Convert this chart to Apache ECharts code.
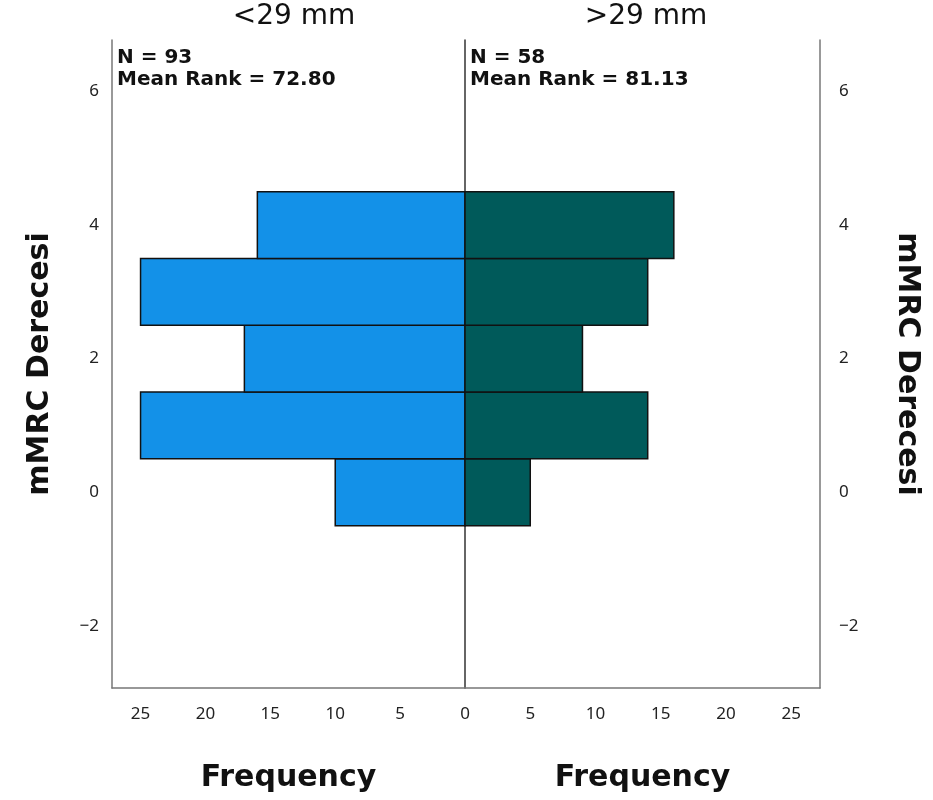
<!DOCTYPE html>
<html><head><meta charset="utf-8">
<script src="https://cdn.jsdelivr.net/npm/echarts@6/dist/echarts.min.js"></script>
<style>html,body{margin:0;padding:0;background:#fff}#c{width:933px;height:800px}</style>
</head><body><div id="c"></div>
<script>
var grades = [0, 1, 2, 3, 4];
var freqLeft = [10, 25, 17, 25, 16];
var freqRight = [5, 14, 9, 14, 16];
var xTicks = [0, 5, 10, 15, 20, 25];
var yTicks = [-2, 0, 2, 4, 6];
var groupNames = ['<29 mm', '>29 mm'];
var statsLeft = ['N = 93', 'Mean Rank = 72.80'];
var statsRight = ['N = 58', 'Mean Rank = 81.13'];

var chart = echarts.init(document.getElementById('c'));
function rectItem(params, api) {
  var g = api.value(0), f = api.value(1);
  var p1 = api.coord([0, g + 0.5]);
  var p2 = api.coord([f, g - 0.5]);
  var x = Math.min(p1[0], p2[0]), w = Math.abs(p2[0] - p1[0]);
  return {type: 'rect', shape: {x: x, y: p1[1], width: w, height: p2[1] - p1[1]},
    style: {fill: api.visual('color'), stroke: '#111', lineWidth: 1.5}};
}
function fmt(v) { return String(v).replace('-', '\u2212'); }
var axisFont = {fontFamily: 'Noto Sans', fontSize: 17, color: '#222', formatter: fmt};
var yMin = -2.93, yMax = 6.77, xMax = 27.2;
var nameStyle = {fontFamily: 'DejaVu Sans', fontWeight: 'bold', fontSize: 30, color: '#111'};
chart.setOption({
  animation: false,
  grid: [
    {left: 112, top: 40, width: 353, height: 648},
    {left: 465, top: 40, width: 355, height: 648}
  ],
  xAxis: [
    {gridIndex: 0, type: 'value', inverse: true, min: 0, max: xMax,
     axisLine: {show: true, onZero: false, lineStyle: {color: '#777', width: 1.5}}, axisTick: {show: false},
     splitLine: {show: false}, axisLabel: Object.assign({customValues: xTicks, margin: 18}, axisFont),
     name: 'Frequency', nameLocation: 'middle', nameGap: 75, nameTextStyle: nameStyle},
    {gridIndex: 1, type: 'value', min: 0, max: xMax,
     axisLine: {show: true, onZero: false, lineStyle: {color: '#777', width: 1.5}}, axisTick: {show: false},
     splitLine: {show: false}, axisLabel: Object.assign({customValues: xTicks.slice(1), margin: 18}, axisFont),
     name: 'Frequency', nameLocation: 'middle', nameGap: 75, nameTextStyle: nameStyle}
  ],
  yAxis: [
    {gridIndex: 0, type: 'value', min: yMin, max: yMax, position: 'left',
     axisLine: {show: true, onZero: false, lineStyle: {color: '#777', width: 1.5}}, axisTick: {show: false},
     splitLine: {show: false}, axisLabel: Object.assign({customValues: yTicks, margin: 13, padding: [7, 0, 0, 0]}, axisFont),
     name: 'mMRC Derecesi', nameLocation: 'middle', nameGap: 57, nameRotate: 90, nameTextStyle: nameStyle},
    {gridIndex: 1, type: 'value', min: yMin, max: yMax, position: 'left',
     axisLine: {show: true, onZero: false, lineStyle: {color: '#333', width: 1.5}}, axisTick: {show: false},
     splitLine: {show: false}, axisLabel: {show: false}},
    {gridIndex: 1, type: 'value', min: yMin, max: yMax, position: 'right',
     axisLine: {show: true, onZero: false, lineStyle: {color: '#777', width: 1.5}}, axisTick: {show: false},
     splitLine: {show: false}, axisLabel: Object.assign({customValues: yTicks, margin: 19, padding: [7, 0, 0, 0]}, axisFont),
     name: 'mMRC Derecesi', nameLocation: 'middle', nameGap: 72, nameRotate: -90, nameTextStyle: nameStyle}
  ],
  series: [
    {type: 'custom', xAxisIndex: 0, yAxisIndex: 0, itemStyle: {color: '#1391E8'},
     data: grades.map(function (g, i) { return [g, freqLeft[i]]; }), renderItem: rectItem, z: 1},
    {type: 'custom', xAxisIndex: 1, yAxisIndex: 1, itemStyle: {color: '#005A5A'},
     data: grades.map(function (g, i) { return [g, freqRight[i]]; }), renderItem: rectItem, z: 1}
  ],
  graphic: [
    {type: 'text', x: 294, y: 17, style: {text: groupNames[0], font: '500 28px "DejaVu Sans"', fill: '#111', align: 'center', verticalAlign: 'middle'}},
    {type: 'text', x: 646, y: 17, style: {text: groupNames[1], font: '500 28px "DejaVu Sans"', fill: '#111', align: 'center', verticalAlign: 'middle'}},
    {type: 'text', x: 117, y: 47, style: {text: statsLeft.join('\n'), font: 'bold 20px "DejaVu Sans"', lineHeight: 22, fill: '#111'}},
    {type: 'text', x: 470, y: 47, style: {text: statsRight.join('\n'), font: 'bold 20px "DejaVu Sans"', lineHeight: 22, fill: '#111'}}
  ]
});
</script></body></html>
